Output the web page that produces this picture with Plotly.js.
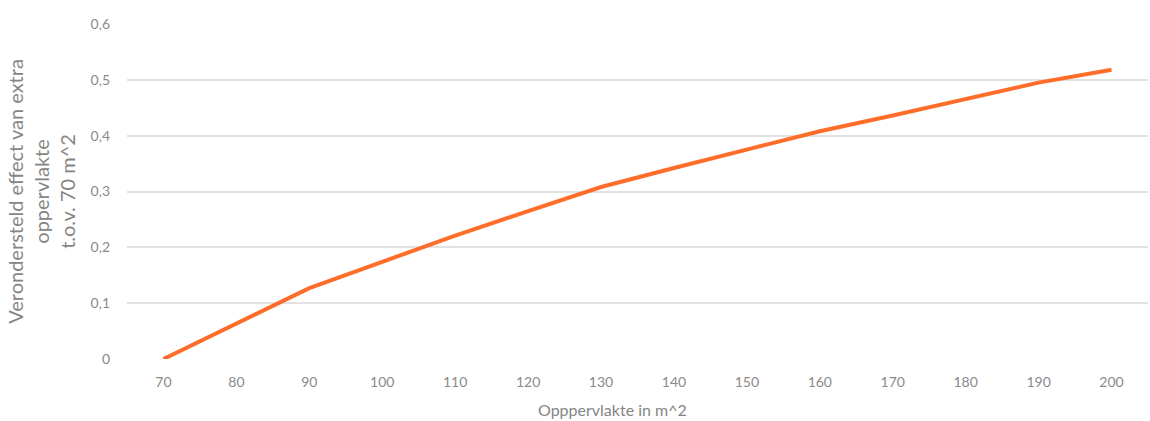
<!DOCTYPE html>
<html>
<head>
<meta charset="utf-8">
<script src="https://cdn.plot.ly/plotly-3.0.1.min.js"></script>
<style>html,body{margin:0;padding:0;background:#fff;}#chart{width:1150px;height:421px;}</style>
</head>
<body>
<div id="chart"></div>
<script>
const categories = ["70","80","90","100","110","120","130","140","150","160","170","180","190","200"];
const effect = [0, 0.063, 0.127, 0.174, 0.221, 0.265, 0.308, 0.342, 0.375, 0.408, 0.436, 0.466, 0.495, 0.518];
const xTitle = "Opppervlakte in m^2";
const yTitle = "Verondersteld effect van extra<br>oppervlakte<br>t.o.v. 70 m^2";

const font = "Lato, 'Noto Sans', sans-serif";
Plotly.newPlot('chart', [{
  x: categories,
  y: effect,
  type: 'scatter',
  mode: 'lines',
  line: {color: '#FF6D2A', width: 4},
  hoverinfo: 'x+y'
}], {
  width: 1150, height: 421,
  margin: {l: 127, r: 2, t: 24, b: 62},
  separators: ',.',
  paper_bgcolor: '#fff', plot_bgcolor: '#fff',
  font: {family: font, color: '#8a8a8a', size: 14},
  showlegend: false,
  xaxis: {
    type: 'category',
    range: [-0.5, 13.5],
    showgrid: false, zeroline: false, showline: false,
    ticks: '', ticklabelstandoff: 13,
    tickfont: {size: 14, color: '#8a8a8a'}
  },
  yaxis: {
    range: [0, 0.6], dtick: 0.1, tick0: 0,
    showgrid: true, gridcolor: '#e2e2e2', gridwidth: 2,
    zeroline: false, showline: false,
    ticks: '', ticklabelstandoff: 16,
    tickfont: {size: 14, color: '#8a8a8a'},
    title: {text: yTitle, font: {size: 20, color: '#858585'}, standoff: 9}
  },
  annotations: [{
    text: xTitle, xref: 'paper', yref: 'paper',
    x: 0.476, y: -0.152, xanchor: 'center', yanchor: 'middle',
    showarrow: false, font: {size: 16, color: '#858585'}
  }]
}, {displayModeBar: false, staticPlot: true});
</script>
</body>
</html>
